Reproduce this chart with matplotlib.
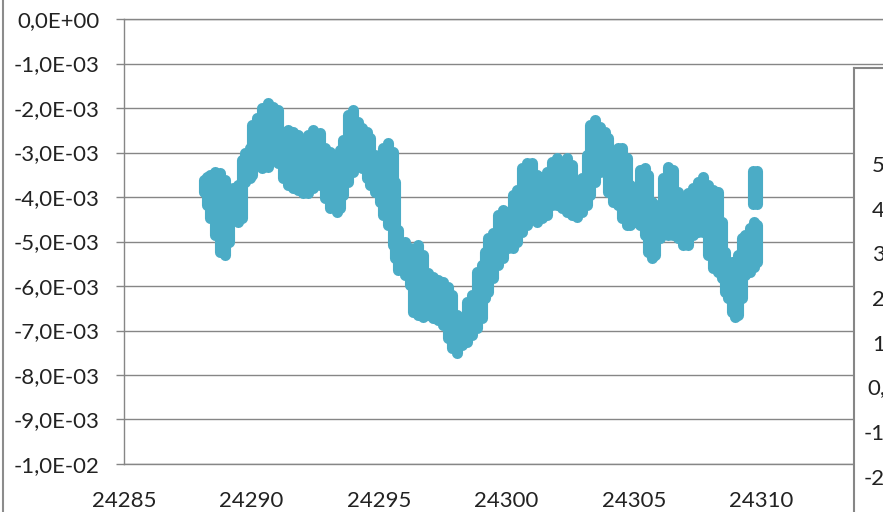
import matplotlib
matplotlib.use("Agg")
import matplotlib.pyplot as plt
from matplotlib.lines import Line2D
import numpy as np

plt.rcParams['font.family'] = ['Lato', 'DejaVu Sans']

# Measurement time (x) with the spread of readings at each time step (in units of 1E-03)
x_vals = [
    24288.12, 24288.25, 24288.37, 24288.57, 24288.76, 24288.96, 24289.12, 24289.27, 24289.47, 24289.63,
    24289.75, 24289.94, 24290.01, 24290.20, 24290.40, 24290.66, 24290.85, 24291.05, 24291.25, 24291.44,
    24291.64, 24291.84, 24292.03, 24292.23, 24292.42, 24292.69, 24292.88, 24293.08, 24293.34, 24293.47,
    24293.60, 24293.80, 24293.99, 24294.19, 24294.32, 24294.52, 24294.65, 24294.84, 24295.04, 24295.17,
    24295.36, 24295.56, 24295.63, 24295.76, 24296.02, 24296.22, 24296.35, 24296.54, 24296.74, 24296.93,
    24297.13, 24297.33, 24297.52, 24297.72, 24297.85, 24298.05, 24298.24, 24298.44, 24298.64, 24298.83,
    24299.03, 24299.16, 24299.29, 24299.48, 24299.68, 24299.87, 24300.07, 24300.27, 24300.40, 24300.60,
    24300.79, 24300.99, 24301.18, 24301.38, 24301.58, 24301.77, 24301.97, 24302.16, 24302.36, 24302.56,
    24302.75, 24302.95, 24303.15, 24303.27, 24303.47, 24303.67, 24303.86, 24303.99, 24304.19, 24304.38,
    24304.52, 24304.71, 24304.84, 24305.04, 24305.24, 24305.43, 24305.56, 24305.69, 24305.82, 24306.02,
    24306.15, 24306.35, 24306.54, 24306.74, 24306.93, 24307.13, 24307.33, 24307.52, 24307.72, 24307.91,
    24308.11, 24308.31, 24308.44, 24308.57, 24308.70, 24308.83, 24308.96, 24309.09, 24309.22, 24309.35,
    24309.55, 24309.70, 24309.82,
]
y_top_milli = [
    -3.62, -3.55, -3.51, -3.44, -3.46, -3.62, -3.84, -3.80, -3.73, -3.17,
    -3.01, -2.90, -2.38, -2.22, -2.00, -1.89, -1.98, -2.04, -2.54, -2.49,
    -2.54, -2.61, -2.90, -2.61, -2.49, -2.56, -2.90, -2.99, -3.06, -2.94,
    -2.72, -2.16, -2.04, -2.31, -2.45, -2.54, -2.67, -3.06, -3.17, -2.90,
    -2.79, -2.99, -3.66, -4.74, -5.01, -5.15, -5.19, -5.08, -5.30, -5.71,
    -5.80, -5.87, -5.91, -6.02, -6.20, -6.65, -6.72, -6.36, -6.20, -5.69,
    -5.53, -5.24, -4.92, -4.81, -4.40, -4.29, -4.34, -3.96, -3.84, -3.35,
    -3.24, -3.24, -3.51, -3.55, -3.44, -3.21, -3.12, -3.21, -3.12, -3.28,
    -3.66, -3.57, -3.06, -2.38, -2.27, -2.43, -2.54, -2.67, -2.99, -2.90,
    -2.90, -3.12, -3.73, -3.80, -3.39, -3.35, -3.51, -4.11, -4.18, -4.18,
    -3.57, -3.33, -3.39, -3.89, -4.00, -3.91, -3.80, -3.66, -3.55, -3.73,
    -3.84, -3.89, -4.56, -5.24, -5.46, -5.46, -5.53, -5.30, -4.92, -4.85,
    -4.70, -4.56, -4.63,
]
y_bot_milli = [
    -3.89, -4.18, -4.47, -4.85, -5.24, -5.30, -5.01, -4.47, -4.56, -4.47,
    -3.66, -3.57, -3.51, -3.28, -3.35, -3.33, -3.17, -3.24, -3.57, -3.73,
    -3.80, -3.84, -3.91, -3.91, -3.80, -3.73, -4.02, -4.25, -4.34, -4.25,
    -3.96, -3.66, -3.44, -3.28, -3.35, -3.57, -3.73, -3.89, -4.11, -4.40,
    -4.63, -5.08, -5.37, -5.64, -5.75, -5.98, -6.58, -6.65, -6.70, -6.65,
    -6.72, -6.76, -6.88, -7.17, -7.39, -7.51, -7.33, -7.26, -7.10, -6.94,
    -6.72, -6.27, -6.13, -5.82, -5.53, -5.37, -5.15, -5.15, -5.01, -4.79,
    -4.63, -4.40, -4.56, -4.47, -4.40, -4.18, -4.18, -4.25, -4.34, -4.40,
    -4.45, -4.34, -4.18, -3.96, -3.66, -3.44, -3.44, -3.89, -4.11, -4.18,
    -4.47, -4.63, -4.63, -4.56, -4.63, -4.85, -5.24, -5.37, -5.30, -4.92,
    -4.79, -4.85, -4.85, -4.92, -5.08, -5.08, -4.85, -4.79, -4.79, -5.30,
    -5.60, -5.69, -5.82, -6.13, -6.27, -6.58, -6.70, -6.65, -6.27, -5.75,
    -5.69, -5.57, -5.46,
]
# Last readings, separated from the main cluster
x_tail = [24309.67, 24309.82]
y_tail_top_milli = [-3.42, -3.42]
y_tail_bot_milli = [-4.16, -4.16]

x_ticks = [24285, 24290, 24295, 24300, 24305, 24310]
y_ticks = [0.0, -1e-3, -2e-3, -3e-3, -4e-3, -5e-3, -6e-3, -7e-3, -8e-3, -9e-3, -1e-2]
inset_ticks = [5e-3, 4e-3, 3e-3, 2e-3, 1e-3, 0.0, -1e-3, -2e-3]

SERIES = '#4BACC6'
GRID = '#868686'
TEXT = '#222222'
FS = 16


def sci_comma(v):
    if v == 0:
        v = 0.0
    return f"{v:.1E}".replace('.', ',')


W, H = 883, 512
fig = plt.figure(figsize=(W / 100, H / 100), dpi=100)
fig.patch.set_facecolor('white')

ax = fig.add_axes([124 / W, 1 - 464 / H, 765 / W, 445 / H])
ax.set_xlim(24285, 24315)
ax.set_ylim(-0.01, 0.0)

milli = 1e-3
ax.vlines(x_vals, np.array(y_bot_milli) * milli, np.array(y_top_milli) * milli,
          colors=SERIES, linewidth=8.0, capstyle='round', zorder=3)
ax.vlines(x_tail, np.array(y_tail_bot_milli) * milli, np.array(y_tail_top_milli) * milli,
          colors=SERIES, linewidth=8.0, capstyle='round', zorder=3)

ax.set_yticks(y_ticks)
ax.set_yticklabels([sci_comma(v) for v in y_ticks])
ax.set_xticks(x_ticks)
ax.set_xticklabels([str(v) for v in x_ticks])

ax.yaxis.grid(True, color=GRID, linewidth=1.0)
ax.set_axisbelow(True)
ax.spines['right'].set_visible(False)
for side in ('left', 'bottom', 'top'):
    ax.spines[side].set_color(GRID)
    ax.spines[side].set_linewidth(1.0)

ax.tick_params(axis='y', direction='out', length=5.8, width=1.0, color=GRID,
               pad=12, labelsize=FS, labelcolor=TEXT)
ax.tick_params(axis='x', length=0, pad=19.5, labelsize=FS, labelcolor=TEXT)

# Neighbouring chart panel overlapping on the right
ax2 = fig.add_axes([854 / W, -0.05, 0.2, (512 - 68) / H + 0.05])
ax2.set_facecolor('white')
ax2.set_xticks([])
ax2.set_yticks([])
ax2.set_ylim(-3.335e-3, 7.17e-3)
for s in ax2.spines.values():
    s.set_color(GRID)
    s.set_linewidth(1.5)
for v in inset_ticks:
    ax2.text(0.54, v, sci_comma(v), transform=ax2.get_yaxis_transform(),
             ha='right', va='center', fontsize=FS, color=TEXT, clip_on=False)

# Outer frame edge on the left
fig.add_artist(Line2D([3 / W, 3 / W], [0, 1], transform=fig.transFigure,
                      color='#8c8c8c', linewidth=1.5))

fig.savefig('out.png', dpi=100)
